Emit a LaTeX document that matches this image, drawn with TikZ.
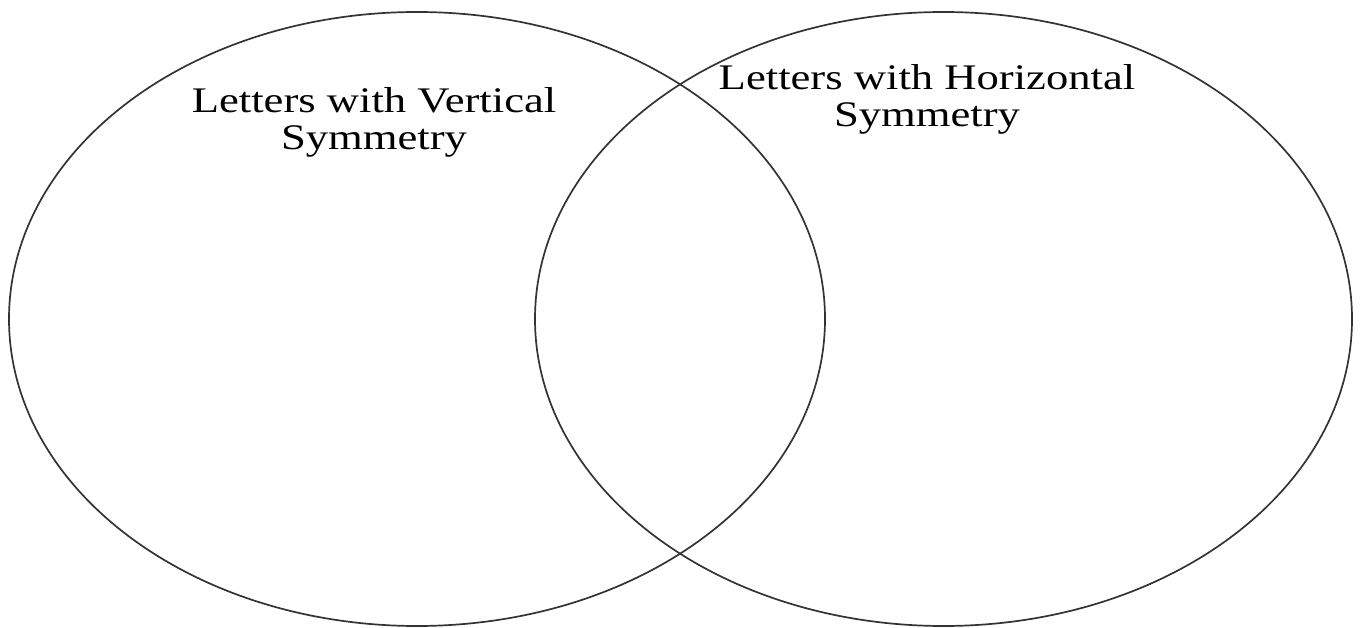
\documentclass[tikz,border=0pt]{standalone}
\usepackage{fontspec}
\setmainfont{Liberation Serif}
\begin{document}
\begin{tikzpicture}[x=1pt,y=-1pt,
  setcircle/.style={draw=black!80,line width=1.7pt},
  lbl/.style={align=center,font=\fontsize{36}{37}\selectfont,inner sep=0pt,xscale=1.24,transform shape}]
\useasboundingbox (0,0) rectangle (1360,628);
\draw[setcircle] (417,319) ellipse [x radius=408, y radius=307];
\draw[setcircle] (943.5,319) ellipse [x radius=408.5, y radius=307];
\node[lbl] (vert) at (374,122) {Letters with Vertical\\Symmetry};
\node[lbl] (horiz) at (927,99) {Letters with Horizontal\\Symmetry};
\end{tikzpicture}
\end{document}
